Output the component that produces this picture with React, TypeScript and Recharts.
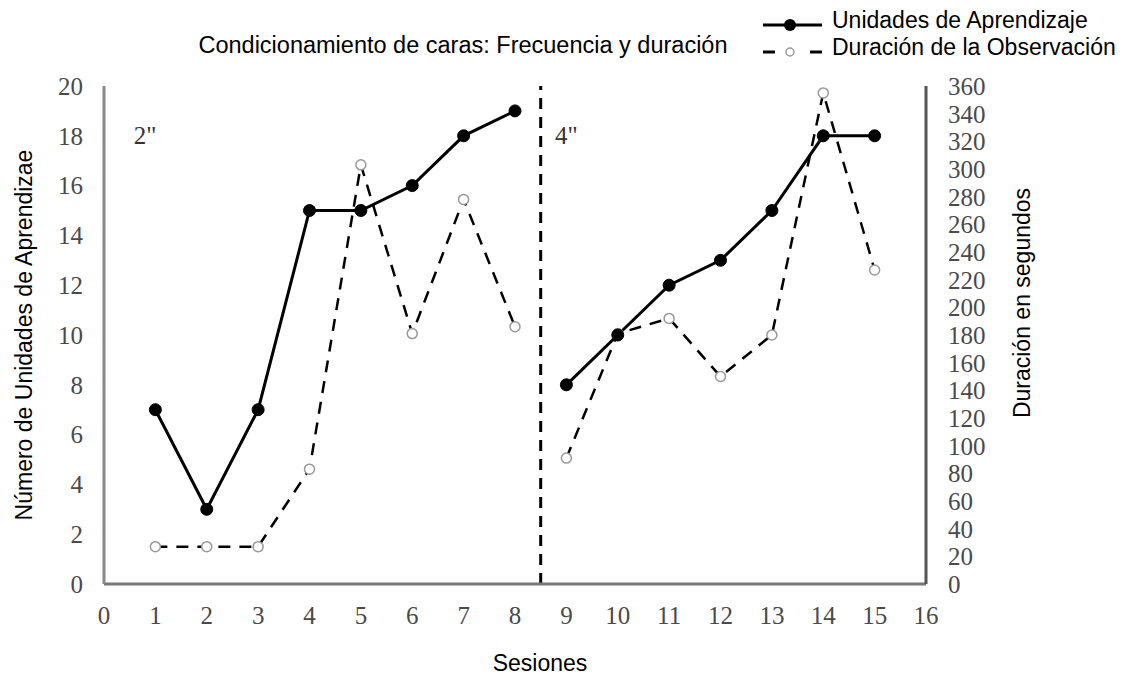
import React from 'react';
import {
  ComposedChart, Line, XAxis, YAxis, ReferenceLine, ReferenceDot, Label,
} from 'recharts';

const sessions = [1, 2, 3, 4, 5, 6, 7, 8, 9, 10, 11, 12, 13, 14, 15];
const unidades = [7, 3, 7, 15, 15, 16, 18, 19, 8, 10, 12, 13, 15, 18, 18];
const duracion = [27, 27, 27, 83, 303, 181, 278, 186, 91, 181, 192, 150, 180, 355, 227];
const phaseChange = 8.5;
const xTicks = [0, 1, 2, 3, 4, 5, 6, 7, 8, 9, 10, 11, 12, 13, 14, 15, 16];
const leftTicks = [0, 2, 4, 6, 8, 10, 12, 14, 16, 18, 20];
const rightTicks = [0, 20, 40, 60, 80, 100, 120, 140, 160, 180, 200, 220, 240, 260, 280, 300, 320, 340, 360];
const phaseLabels = [
  { x: 0.8, y: 18, text: '2"' },
  { x: 9.0, y: 18, text: '4"' },
];

const data: any[] = [];
sessions.forEach((s, i) => {
  if (i > 0 && sessions[i - 1] < phaseChange && s > phaseChange) {
    data.push({ session: phaseChange, unidades: null, duracion: null });
  }
  data.push({ session: s, unidades: unidades[i], duracion: duracion[i] });
});

const SANS = '"Liberation Sans", Arial, sans-serif';
const SERIF = '"Liberation Serif", "Times New Roman", serif';
const tickStyle = { fontFamily: SERIF, fontSize: 25, fill: '#4a4a4a' };

const PhaseLabel = (text: string) => (props: any) => {
  const { viewBox } = props;
  return (
    <text x={viewBox.x} y={viewBox.y + 8} fontFamily={SERIF} fontSize={25} fill="#333" textAnchor="middle">{text}</text>
  );
};

export default function App() {
  return (
    <div style={{ position: 'absolute', left: 0, top: 0, width: 1129, height: 677, background: '#fff' }}>
      <ComposedChart width={1129} height={677} data={data} margin={{ top: 86, right: 0, bottom: 0, left: 0 }}>
        <text x={463} y={53} textAnchor="middle" fontFamily={SANS} fontSize={23.5} fill="#000">
          Condicionamiento de caras: Frecuencia y duración
        </text>
        <g>
          <line x1={763} y1={25} x2={822} y2={25} stroke="#000" strokeWidth={3} />
          <circle cx={790} cy={25} r={6} fill="#000" />
          <text x={832} y={28} fontFamily={SANS} fontSize={23} fill="#000">Unidades de Aprendizaje</text>
          <line x1={763} y1={52} x2={775} y2={52} stroke="#000" strokeWidth={3} />
          <circle cx={790} cy={52} r={4} fill="#fff" stroke="#999" strokeWidth={1.5} />
          <line x1={810} y1={52} x2={822} y2={52} stroke="#000" strokeWidth={3} />
          <text x={832} y={55} fontFamily={SANS} fontSize={23} fill="#000">Duración de la Observación</text>
        </g>
        <XAxis
          dataKey="session" type="number" domain={[0, 16]} ticks={xTicks} height={93}
          tickLine={false} tickSize={0} tickMargin={22} interval={0}
          axisLine={{ stroke: '#777', strokeWidth: 3 }} tick={tickStyle}
        >
          <Label
            content={() => (
              <text x={540} y={671} textAnchor="middle" fontFamily={SANS} fontSize={23} fill="#000">Sesiones</text>
            )}
          />
        </XAxis>
        <YAxis
          yAxisId="l" domain={[0, 20]} ticks={leftTicks} width={104}
          tickLine={false} tickSize={0} tickMargin={21} interval={0}
          axisLine={{ stroke: '#888', strokeWidth: 3 }} tick={tickStyle}
        >
          <Label
            content={() => (
              <text x={32} y={335} transform="rotate(-90 32 335)" textAnchor="middle" fontFamily={SANS} fontSize={23} fill="#000">
                Número de Unidades de Aprendizae
              </text>
            )}
          />
        </YAxis>
        <YAxis
          yAxisId="r" orientation="right" domain={[0, 360]} ticks={rightTicks} width={203}
          tickLine={false} tickSize={0} tickMargin={22} interval={0}
          axisLine={{ stroke: '#555', strokeWidth: 3 }} tick={{ ...tickStyle, textAnchor: 'start' }}
        >
          <Label
            content={() => (
              <text x={1030} y={303} transform="rotate(-90 1030 303)" textAnchor="middle" fontFamily={SANS} fontSize={23} fill="#000">
                Duración en segundos
              </text>
            )}
          />
        </YAxis>
        <ReferenceLine yAxisId="l" x={phaseChange} stroke="#000" strokeWidth={3} strokeDasharray="11 8" />
        {phaseLabels.map((p) => (
          <ReferenceDot key={p.text} yAxisId="l" x={p.x} y={p.y} r={0} stroke="none" fill="none" label={PhaseLabel(p.text)} />
        ))}
        <Line
          yAxisId="r" dataKey="duracion" stroke="#000" strokeWidth={2.5} strokeDasharray="12 9"
          dot={{ r: 5, fill: '#fff', stroke: '#999', strokeWidth: 1.5, strokeDasharray: '' }}
          isAnimationActive={false} connectNulls={false} type="linear"
        />
        <Line
          yAxisId="l" dataKey="unidades" stroke="#000" strokeWidth={3}
          dot={{ r: 6, fill: '#000', stroke: '#000', strokeWidth: 1 }}
          isAnimationActive={false} connectNulls={false} type="linear"
        />
      </ComposedChart>
    </div>
  );
}
